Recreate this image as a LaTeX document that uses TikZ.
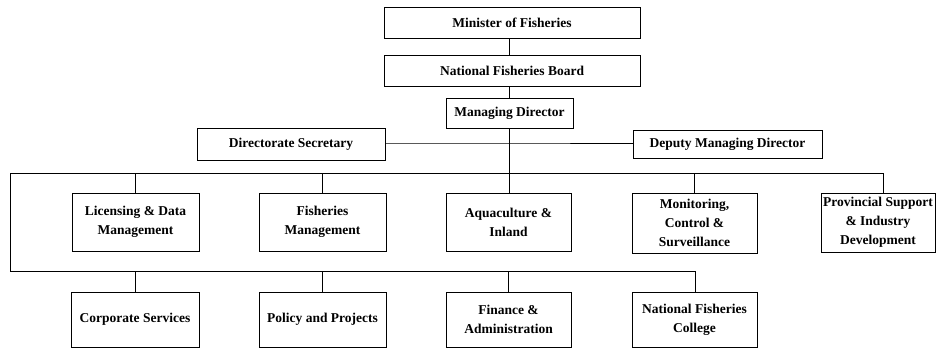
\documentclass[tikz,border=0pt]{standalone}
\usepackage{fontspec}
\setmainfont{Liberation Serif}
\begin{document}
\begin{tikzpicture}[x=1pt,y=-1pt,
  box/.style={draw=black,line width=0.9pt,inner sep=0pt,align=center,
    font=\bfseries\fontsize{13.5}{19}\selectfont},
  con/.style={draw=black,line width=0.9pt}]
\useasboundingbox (0,0) rectangle (936,349);
\node[box,minimum width=256,minimum height=31] (min) at (512,22.5) {Minister of Fisheries};
\node[box,minimum width=256,minimum height=31] (nfb) at (512,70.5) {National Fisheries Board};
\node[box,minimum width=127,minimum height=30] (md) at (509.5,113) {Managing Director};
\node[box,minimum width=188,minimum height=32] (ds) at (291,144) {Directorate Secretary};
\node[box,minimum width=189,minimum height=28] (dmd) at (727.5,144.5) {Deputy Managing Director};
\node[box,minimum width=127,minimum height=58] (lic) at (135.5,222) {Licensing \& Data\\Management};
\node[box,minimum width=127,minimum height=58] (fm) at (322.5,222) {Fisheries\\Management};
\node[box,minimum width=125,minimum height=58] (aq) at (508.5,222) {Aquaculture \&\\Inland};
\node[box,minimum width=125,minimum height=60] (mcs) at (694.5,223) {Monitoring,\\Control \&\\Surveillance};
\node[box,minimum width=114,minimum height=59] (prov) at (878,222.5) {Provincial Support\\\& Industry\\Development};
\node[box,minimum width=128,minimum height=55] (cs) at (135,319.5) {Corporate Services};
\node[box,minimum width=127,minimum height=55] (pp) at (322.5,319.5) {Policy and Projects};
\node[box,minimum width=125,minimum height=55] (fa) at (508.5,319.5) {Finance \&\\Administration};
\node[box,minimum width=125,minimum height=55] (nfc) at (694.5,319.5) {National Fisheries\\College};
\coordinate (s1) at (509,143);
\coordinate (b1L) at (10,173);
\coordinate (b1R) at (883,173);
\coordinate (b2L) at (10,271);
\coordinate (b2R) at (695,271);
\draw[con] (min.south -| s1) -- (nfb.north -| s1);
\draw[con] (nfb.south -| s1) -- (md.north -| s1);
\draw[con] (md.south -| s1) -- (aq.north -| s1);
\draw[con] (ds.east |- s1) -- (s1) -- (dmd.west |- s1);
\draw[con] (b1R |- prov.north) -- (b1R) -- (b1L) -- (b2L) -- (b2R) -- (b2R |- nfc.north);
\draw[con] (lic.north) -- (lic.north |- b1L);
\draw[con] (fm.north) -- (fm.north |- b1L);
\draw[con] (mcs.north) -- (mcs.north |- b1L);
\draw[con] (cs.north) -- (cs.north |- b2L);
\draw[con] (pp.north) -- (pp.north |- b2L);
\draw[con] (fa.north) -- (fa.north |- b2L);
\end{tikzpicture}
\end{document}
